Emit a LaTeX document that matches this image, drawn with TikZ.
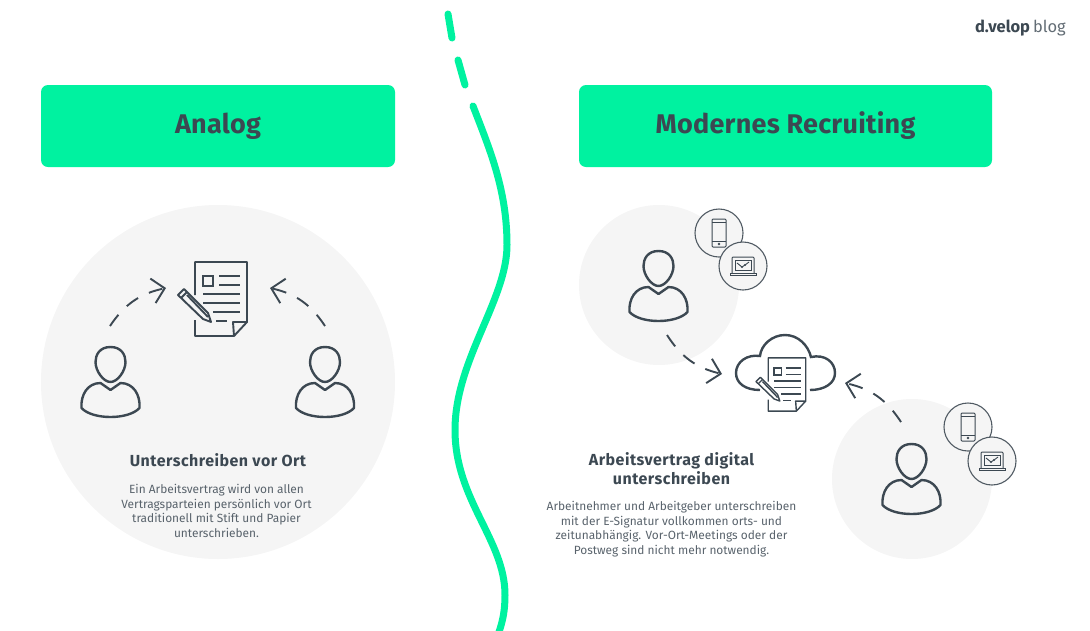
\documentclass[tikz,border=0pt]{standalone}
\usepackage{fontspec}
\setmainfont{Fira Sans}
\usetikzlibrary{arrows.meta,positioning}
\definecolor{dvgreen}{RGB}{0, 242, 160}
\definecolor{dvdark}{RGB}{60, 72, 82}
\definecolor{dvgray}{RGB}{245, 245, 245}
\tikzset{
  headerbox/.style={fill=dvgreen, rounded corners=7pt, text=dvdark, font=\fontsize{27}{30}\selectfont\bfseries\addfontfeature{LetterSpace=1}},
  bgcircle/.style={circle, fill=dvgray, inner sep=0pt},
  devicering/.style={circle, draw=dvdark!90, fill=dvgray, line width=1.1pt, inner sep=0pt, minimum size=48pt},
  flowarrow/.style={draw=dvdark, line width=1.9pt, dash pattern=on 14pt off 12pt, -{Straight Barb[length=12pt,width=25pt,line width=1.9pt]}},
  headline/.style={text=dvdark, align=center, font=\fontsize{16}{19.5}\selectfont\bfseries\addfontfeature{LetterSpace=3}},
  bodytext/.style={text=dvdark!85, align=center, font=\fontsize{11.9}{14.7}\selectfont},
  docline/.style={line width=1.9pt},
  personpic/.pic={
    \draw[dvdark, line width=2.4pt] (0,-24) .. controls (-11,-24) and (-15,-16) .. (-15,-9) .. controls (-15,0) and (-7,11) .. (0,11) .. controls (7,11) and (15,0) .. (15,-9) .. controls (15,-16) and (11,-24) .. (0,-24) -- cycle;
    \draw[dvdark, line width=2.4pt, line join=round] (-29,37) .. controls (-30,24) and (-23,12) .. (-10,12) -- (0,19) -- (10,12) .. controls (23,12) and (30,24) .. (29,37) .. controls (18,49) and (-18,49) .. (-29,37) -- cycle;
  },
  docpic/.pic={
    \draw[dvdark, docline, line join=round] (-26,-4) -- (-26,-37) -- (26,-37) -- (26,23) -- (13,37) -- (-26,37) -- (-26,21);
    \draw[dvdark, docline, line join=round] (26,23) -- (12,23) -- (13,37);
    \draw[dvdark, docline] (-18,-23) rectangle (-8,-13);
    \foreach \ya/\xa/\xb in {-23/-2/19, -14/-2/19, -5/-18/19, 4/-18/19, 13/-8/19, 22/-5/6}
      \draw[dvdark, docline] (\xa,\ya) -- (\xb,\ya);
    \draw[dvdark, docline, line join=round] (-43,-4) -- (-37,-10) -- (-13,14) -- (-10,23) -- (-18,20) -- cycle;
    \draw[dvdark, docline] (-40,-1) -- (-34,-7) (-34,-4) -- (-13,18);
  },
  phonepic/.pic={
    \draw[dvdark, line width=1pt, rounded corners=1pt] (-7,-14) rectangle (7,14);
    \draw[dvdark, line width=.8pt] (-7,-10.5) -- (7,-10.5) (-7,8) -- (7,8);
    \fill[dvdark] (0,11) circle (1.3pt);
  },
  laptoppic/.pic={
    \draw[dvdark, line width=1pt, rounded corners=1pt] (-11,7) -- (-11,-9) -- (11,-9) -- (11,7);
    \draw[dvdark, line width=.8pt] (-8,-6) rectangle (8,4.5);
    \draw[dvdark, line width=1pt] (-13,7) -- (13,7) -- (13,9) -- (-13,9) -- cycle;
    \draw[dvdark, line width=.9pt] (-6,-3) -- (-1,1) -- (2,-1) -- (6,-4);
    \fill[dvdark] (-1,1) circle (1.1pt) (2,-1) circle (1.1pt);
  },
}
\begin{document}
\begin{tikzpicture}[x=1pt, y=-1pt]
\useasboundingbox (0,0) rectangle (1090,630);
% background circles
\node[bgcircle, minimum size=354pt] (circleanalog) at (218,382) {};
\node[bgcircle, minimum size=160pt] (circletop) at (659,285) {};
\node[bgcircle, minimum size=160pt] (circlebottom) at (912,479) {};
% divider
\draw[dvgreen, line width=7pt, line cap=round] (448,14) -- (452,38);
\draw[dvgreen, line width=7pt, line cap=round] (458,60) -- (465,85);
\draw[dvgreen, line width=7pt, line cap=round] (473,106) .. controls (490,150) and (507,190) .. (507,245) .. controls (507,300) and (455,360) .. (455,430) .. controls (455,500) and (505,540) .. (505,595) .. controls (505,610) and (503,620) .. (499,632);
% headers
\node[headerbox, minimum width=354pt, minimum height=82pt] (analog) at (218,126) {Analog};
\node[headerbox, minimum width=413pt, minimum height=82pt] (modern) at (785.5,126) {Modernes Recruiting};
% analog side
\pic at (110.5,371) {personpic};
\pic at (325,371) {personpic};
\pic at (221,299) {docpic};
\coordinate (leftstart) at (110,326);
\coordinate (leftend) at (166,288);
\coordinate (rightstart) at (325,326);
\coordinate (rightend) at (270,288);
\draw[flowarrow] (leftstart) to[bend left=22] (leftend);
\draw[flowarrow] (rightstart) to[bend right=22] (rightend);
\node[headline] (titleanalog) at (218,460) {Unterschreiben vor Ort};
\node[bodytext] (textanalog) at (216.5,511) {Ein Arbeitsvertrag wird von allen\\Vertragsparteien persönlich vor Ort\\traditionell mit Stift und Papier\\unterschrieben.};
% digital side
\pic at (658.5,275) {personpic};
\pic at (911.5,468) {personpic};
\node[devicering] (phonetop) at (719,233) {};
\node[devicering] (laptoptop) at (743,266) {};
\node[devicering] (phonebottom) at (968,427) {};
\node[devicering] (laptopbottom) at (992,461) {};
\pic at (phonetop) {phonepic};
\pic at (laptoptop) {laptoppic};
\pic at (phonebottom) {phonepic};
\pic at (laptopbottom) {laptoppic};
% cloud
\draw[dvdark, line width=2.4pt] (760,390) .. controls (745,390) and (736,383) .. (736,373) .. controls (736,362) and (747,354) .. (760,356) .. controls (761,345) and (772,335) .. (785,335) .. controls (798,335) and (808,345) .. (811,357) .. controls (825,354) and (835,362) .. (835,373) .. controls (835,383) and (825,390) .. (810,390);
\pic[scale=.72, docline/.style={line width=1.4pt}] at (787,384.5) {docpic};
\coordinate (topstart) at (667,335);
\coordinate (topend) at (722,374);
\coordinate (bottomstart) at (901,422);
\coordinate (bottomend) at (845,383);
\draw[flowarrow] (topstart) to[bend right=22] (topend);
\draw[flowarrow] (bottomstart) to[bend right=22] (bottomend);
\node[headline] (titledigital) at (671.5,468.5) {Arbeitsvertrag digital\\unterschreiben};
\node[bodytext] (textdigital) at (671.5,529) {Arbeitnehmer und Arbeitgeber unterschreiben\\mit der E-Signatur vollkommen orts- und\\zeitunabhängig. Vor-Ort-Meetings oder der\\Postweg sind nicht mehr notwendig.};
% logo
\node[text=dvdark, anchor=east, inner sep=0pt, font=\fontsize{16.5}{20}\selectfont] (logo) at (1066,28) {\textbf{d.velop}\hspace{3pt}\textcolor{dvdark!80}{blog}};
\end{tikzpicture}
\end{document}
